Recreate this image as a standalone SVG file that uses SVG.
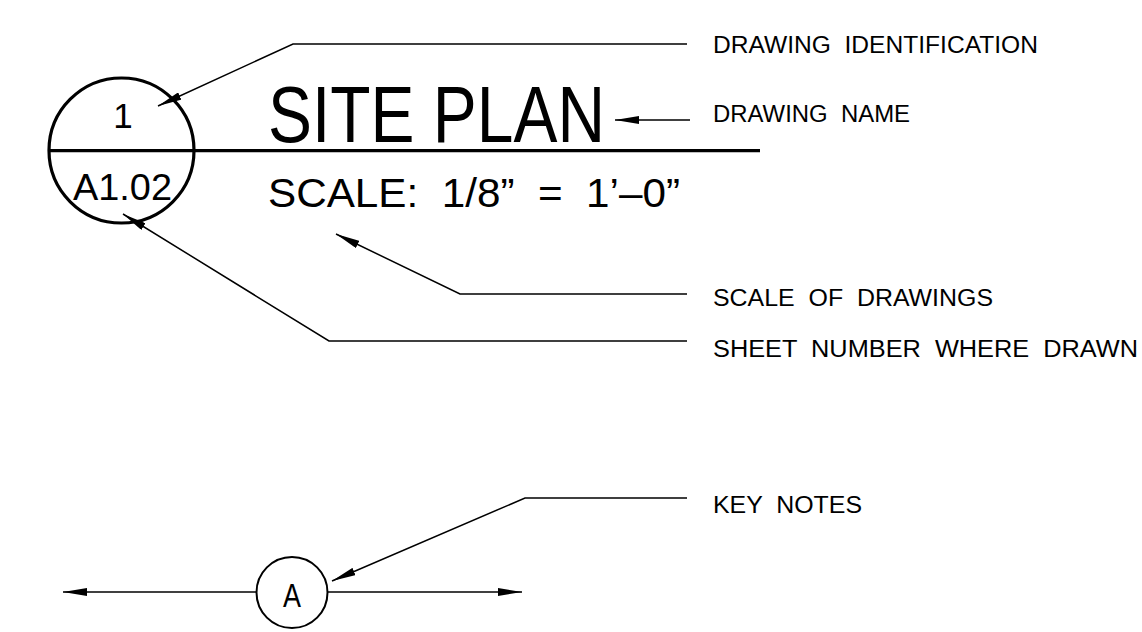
<svg xmlns="http://www.w3.org/2000/svg" width="1142" height="632" viewBox="0 0 1142 632">
<style>
.t{font-family:"Liberation Sans",Arial,sans-serif;fill:#000;white-space:pre}
.lbl{font-size:23px}
.ln{fill:none;stroke:#000;stroke-width:1.5}
.thick{fill:none;stroke:#000;stroke-width:3.2}
</style>
<defs>
<marker id="ah" markerUnits="userSpaceOnUse" viewBox="0 0 24 8" refX="24" refY="4" markerWidth="24" markerHeight="8" orient="auto-start-reverse">
<path d="M0,0 L24,4 L0,8 Z" fill="#000"/>
</marker>
</defs>
<rect width="1142" height="632" fill="#fff"/>
<g id="title-bubble">
<circle class="thick" cx="121.5" cy="150.5" r="72.5"/>
<line class="thick" x1="49" y1="150.7" x2="760" y2="150.7"/>
<text class="t" x="123" y="128" font-size="35" text-anchor="middle">1</text>
<text class="t" x="73" y="200" font-size="37" textLength="99" lengthAdjust="spacingAndGlyphs">A1.02</text>
</g>
<g id="drawing-name">
<text class="t" x="268" y="142" font-size="79" textLength="337" lengthAdjust="spacingAndGlyphs">SITE PLAN</text>
</g>
<g id="scale">
<text class="t" x="268" y="207" font-size="40" textLength="412" lengthAdjust="spacingAndGlyphs">SCALE:  1/8”  =  1’–0”</text>
</g>
<g id="key-note-bubble">
<circle cx="292" cy="592.5" r="35.5" fill="none" stroke="#000" stroke-width="2"/>
<text class="t" x="283" y="607" font-size="34" textLength="18" lengthAdjust="spacingAndGlyphs">A</text>
</g>
<g id="labels">
<text class="t lbl" x="713" y="53" textLength="325" lengthAdjust="spacingAndGlyphs">DRAWING  IDENTIFICATION</text>
<text class="t lbl" x="713" y="122" textLength="197" lengthAdjust="spacingAndGlyphs">DRAWING  NAME</text>
<text class="t lbl" x="713" y="306" textLength="280" lengthAdjust="spacingAndGlyphs">SCALE  OF  DRAWINGS</text>
<text class="t lbl" x="713" y="357" textLength="425" lengthAdjust="spacingAndGlyphs">SHEET  NUMBER  WHERE  DRAWN</text>
<text class="t lbl" x="713" y="513" textLength="149" lengthAdjust="spacingAndGlyphs">KEY  NOTES</text>
</g>
<g id="connectors">
<polyline class="ln" points="158,106 293,44 687,44" marker-start="url(#ah)"/>
<line class="ln" x1="615" y1="120" x2="690" y2="120" marker-start="url(#ah)"/>
<polyline class="ln" points="336,234 460,294 687,294" marker-start="url(#ah)"/>
<polyline class="ln" points="123,214 329,341 687,341" marker-start="url(#ah)"/>
<polyline class="ln" points="332,581 525,498 687,498" marker-start="url(#ah)"/>
<line class="ln" x1="257" y1="592" x2="63" y2="592" marker-end="url(#ah)"/>
<line class="ln" x1="327" y1="592" x2="522" y2="592" marker-end="url(#ah)"/>
</g>
</svg>
